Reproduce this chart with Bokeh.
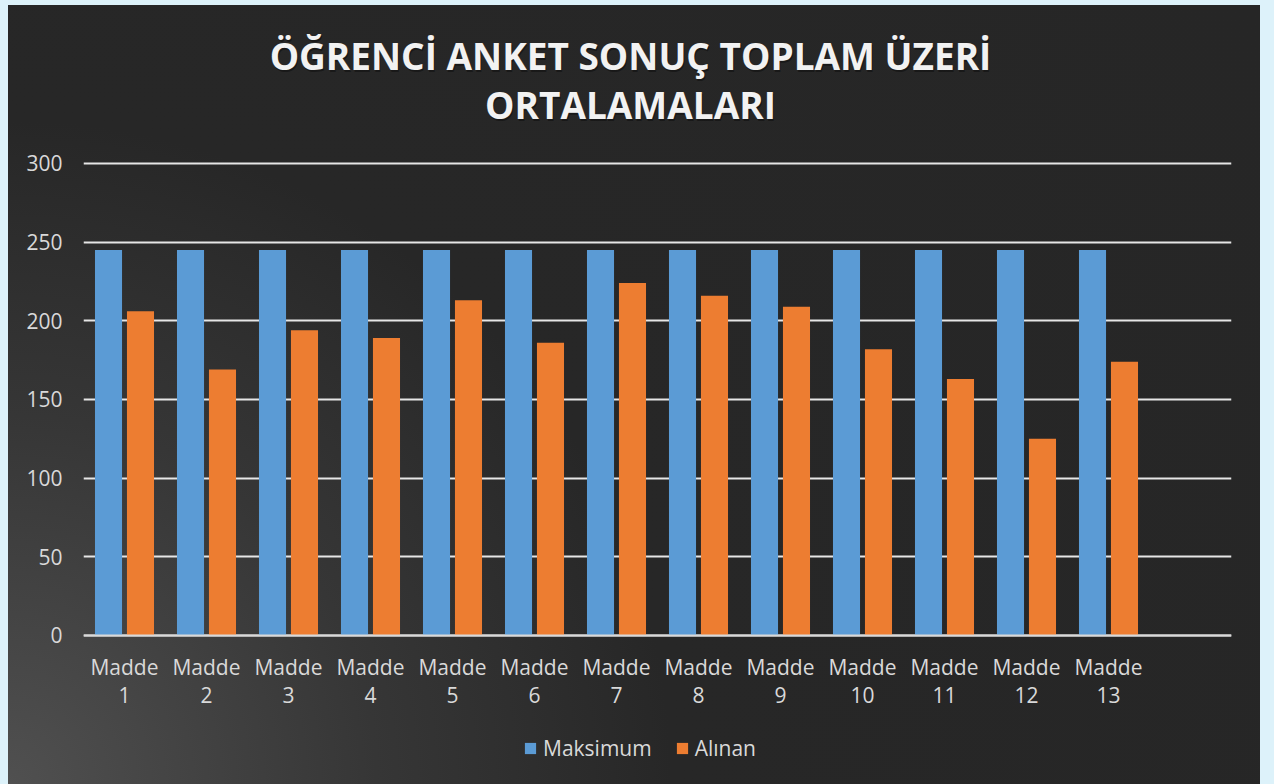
from bokeh.plotting import figure
from bokeh.models import Range1d, FixedTicker, Legend, LegendItem, ColumnDataSource, Label
from bokeh.transform import dodge
from bokeh.embed import file_html
from bokeh.resources import INLINE

categories = ["Madde 1", "Madde 2", "Madde 3", "Madde 4", "Madde 5", "Madde 6", "Madde 7",
              "Madde 8", "Madde 9", "Madde 10", "Madde 11", "Madde 12", "Madde 13"]
maksimum = [245, 245, 245, 245, 245, 245, 245, 245, 245, 245, 245, 245, 245]
alinan = [206, 169, 194, 189, 213, 186, 224, 216, 209, 182, 163, 125, 174]
y_ticks = [0, 50, 100, 150, 200, 250, 300]
series_names = ["Maksimum", "Alınan"]
title_lines = ["ÖĞRENCİ ANKET SONUÇ TOPLAM ÜZERİ", "ORTALAMALARI"]

positions = list(range(1, len(categories) + 1))
source = ColumnDataSource(dict(x=positions, cat=categories, maks=maksimum, alin=alinan))

FONT = "Open Sans"
LABEL = "#d9d9d9"

# The frame covers the whole chart height (title and legend live inside it);
# the value axis 0..300 occupies the middle band of the frame.
p = figure(frame_width=1148, frame_height=779, output_backend="svg", toolbar_location=None,
           x_range=Range1d(0.5, 14.5), y_range=Range1d(-94.7, 400.4),
           min_border_left=75, min_border_right=29, min_border_top=0, min_border_bottom=0,
           styles={"background": "radial-gradient(circle at 0% 100%, #505050 0%, #363636 25%, #272727 45%, #262626 100%)"})
p.margin = (5, 0, 0, 8)
p.border_fill_alpha = 0
p.background_fill_alpha = 0
p.outline_line_color = None

# title lines
for txt, ty in zip(title_lines, [729, 680]):
    p.add_layout(Label(x=548, y=ty - 2, x_units="screen", y_units="screen", text=txt,
                       text_align="center", text_baseline="alphabetic", text_font=FONT,
                       text_font_style="bold", text_font_size="37px", text_color="#0d0d0d",
                       text_alpha=0.55))
    p.add_layout(Label(x=547, y=ty, x_units="screen", y_units="screen", text=txt,
                       text_align="center", text_baseline="alphabetic", text_font=FONT,
                       text_font_style="bold", text_font_size="37px", text_color="#f2f2f2"))

b1 = p.vbar(x=dodge("x", -0.195), top="maks", width=0.33, source=source,
            fill_color="#5b9bd5", line_color=None)
b2 = p.vbar(x=dodge("x", 0.195), top="alin", width=0.33, source=source,
            fill_color="#ed7d31", line_color=None)

p.yaxis.ticker = FixedTicker(ticks=y_ticks)
p.yaxis.axis_line_color = None
p.yaxis.major_tick_line_color = None
p.yaxis.minor_tick_line_color = None
p.yaxis.major_label_text_font = FONT
p.yaxis.major_label_text_font_size = "21px"
p.yaxis.major_label_text_color = LABEL
p.yaxis.major_label_standoff = 15

p.xaxis.fixed_location = 0
p.xaxis.ticker = FixedTicker(ticks=positions)
p.xaxis.major_label_overrides = {pos: cat.replace(" ", "\n") for pos, cat in zip(positions, categories)}
p.xaxis.axis_line_color = LABEL
p.xaxis.axis_line_width = 2
p.xaxis.major_tick_line_color = None
p.xaxis.minor_tick_line_color = None
p.xaxis.major_label_text_font = FONT
p.xaxis.major_label_text_font_size = "21px"
p.xaxis.major_label_text_line_height = 1.0
p.xaxis.major_label_text_color = LABEL
p.xaxis.major_label_standoff = 12

p.xgrid.grid_line_color = None
p.ygrid.grid_line_color = "#e6e6e6"
p.ygrid.grid_line_width = 2

legend = Legend(items=[LegendItem(label=series_names[0], renderers=[b1]),
                       LegendItem(label=series_names[1], renderers=[b2])],
                orientation="horizontal", location=(440, 22),
                label_text_font=FONT, label_text_font_size="21px", label_text_color=LABEL,
                glyph_width=14, glyph_height=14, label_standoff=6, spacing=23,
                background_fill_alpha=0, border_line_color=None, margin=0, padding=0)
p.add_layout(legend, "center")

html = file_html(p, INLINE)
html = html.replace("</head>", "<style>html, body { background: #ddf2fa; }</style></head>", 1)
open("out.html", "w").write(html)
